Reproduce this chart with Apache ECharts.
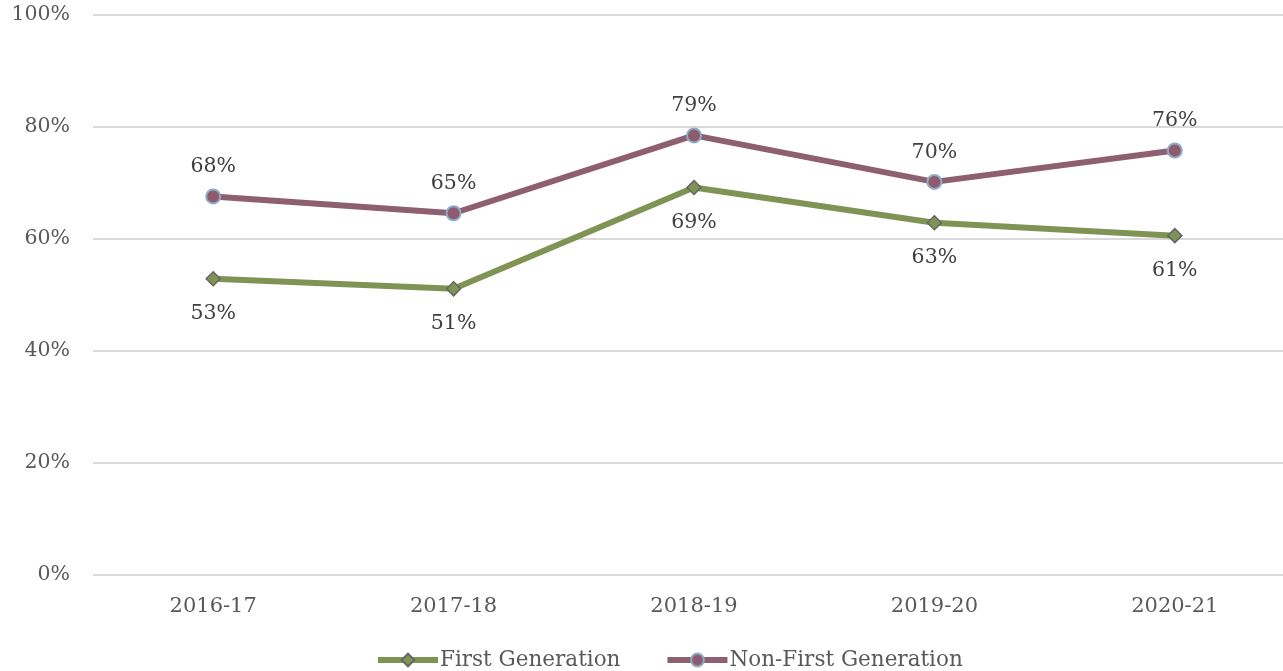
<!DOCTYPE html>
<html><head><meta charset="utf-8">
<script src="https://cdn.jsdelivr.net/npm/echarts@6/dist/echarts.min.js"></script>
<style>html,body{margin:0;padding:0;background:#fff}#c{width:1283px;height:671px}</style>
</head><body><div id="c"></div>
<script>
const categories = ['2016-17','2017-18','2018-19','2019-20','2020-21'];
const firstGen = [52.9, 51.1, 69.2, 62.9, 60.6];
const nonFirstGen = [67.6, 64.6, 78.5, 70.2, 75.8];
const yTicks = [0, 20, 40, 60, 80, 100];

const FONT = 'DejaVu Serif';
const chart = echarts.init(document.getElementById('c'));
chart.setOption({
  animation: false,
  textStyle: { fontFamily: FONT },
  grid: { left: 93, width: 1202, top: 15, bottom: 96, containLabel: false, outerBoundsMode: 'none' },
  legend: {
    bottom: -5, left: 370, itemWidth: 60, itemHeight: 16, itemGap: 44,
    textStyle: { fontFamily: FONT, fontSize: 21.5, color: '#595959', padding: [0, 0, 0, -3] },
    lineStyle: { width: 6 },
    data: ['First Generation', 'Non-First Generation']
  },
  xAxis: {
    type: 'category', data: categories, boundaryGap: true,
    axisLine: { show: false }, axisTick: { show: false },
    axisLabel: { fontFamily: FONT, fontSize: 21, color: '#595959', margin: 21 }
  },
  yAxis: {
    type: 'value', min: 0, max: 100, interval: 20,
    axisLine: { show: false }, axisTick: { show: false },
    splitLine: { lineStyle: { color: '#d9d9d9', width: 2 } },
    axisLabel: { fontFamily: FONT, fontSize: 20.5, color: '#595959', margin: 23, formatter: v => v + '%' }
  },
  series: [
    {
      name: 'First Generation', type: 'line', data: firstGen,
      symbol: 'diamond', symbolSize: 14,
      lineStyle: { color: '#7f9454', width: 6 },
      itemStyle: { color: '#7f9454', borderColor: '#656565', borderWidth: 1.5 },
      label: { show: true, position: 'bottom', distance: 17, fontFamily: FONT, fontSize: 20.5, color: '#404040',
        formatter: p => Math.round(p.value) + '%' }
    },
    {
      name: 'Non-First Generation', type: 'line', data: nonFirstGen,
      symbol: 'circle', symbolSize: 14,
      lineStyle: { color: '#8e5f71', width: 6 },
      itemStyle: { color: '#8e5a6e', borderColor: '#8eaac4', borderWidth: 2 },
      label: { show: true, position: 'top', distance: 11, fontFamily: FONT, fontSize: 20.5, color: '#404040',
        formatter: p => Math.round(p.value) + '%' }
    }
  ]
});
</script></body></html>
